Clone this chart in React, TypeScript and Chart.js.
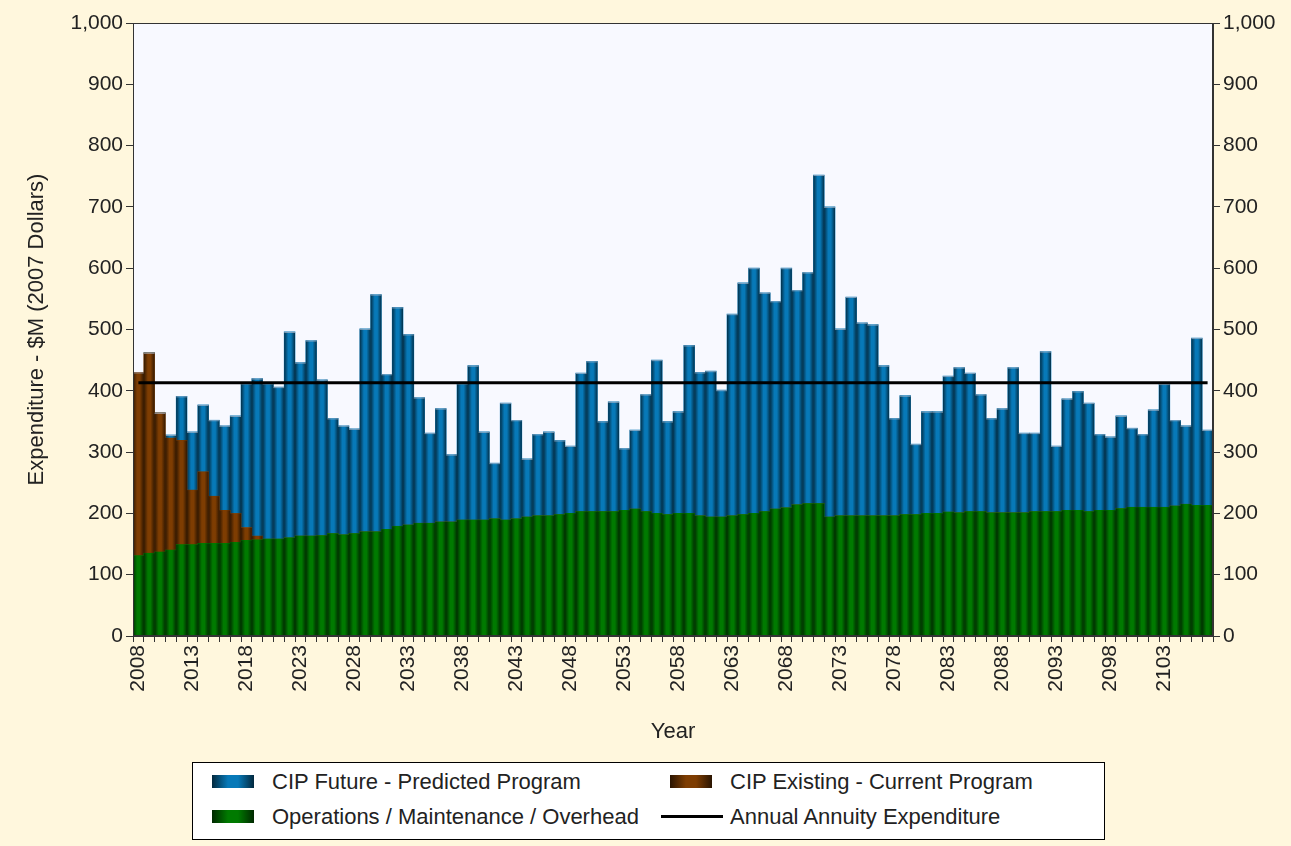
import React, { useEffect, useRef } from 'react';
import { Chart, registerables } from 'chart.js';

Chart.register(...registerables);

// ---------- data ----------
const FIRST_YEAR = 2008;
const YEAR_COUNT = 100;
const YEARS: string[] = Array.from({ length: YEAR_COUNT }, (_, i) => String(FIRST_YEAR + i));
const X_LABEL_EVERY = 5;

// Operations / Maintenance / Overhead ($M)
const OPS_VALUES = [
  131, 135, 137, 140, 149, 149, 151, 151, 151, 153,
  156, 157, 158, 158, 160, 163, 163, 164, 167, 165,
  167, 170, 170, 174, 179, 181, 184, 184, 186, 186,
  189, 189, 189, 191, 189, 191, 194, 196, 196, 198,
  200, 203, 203, 203, 203, 205, 207, 203, 200, 198,
  200, 200, 196, 194, 194, 196, 198, 200, 203, 207,
  209, 214, 216, 216, 194, 196, 196, 196, 196, 196,
  196, 198, 198, 200, 200, 202, 201, 203, 203, 201,
  201, 201, 201, 203, 203, 203, 205, 205, 203, 205,
  205, 208, 210, 210, 210, 210, 212, 215, 213, 213,
];

// CIP Existing - Current Program ($M)
const EXISTING_VALUES = [
  299, 327, 227, 183, 170, 89, 117, 77, 54, 47,
  21, 6, 0, 0, 0, 0, 0, 0, 0, 0,
  0, 0, 0, 0, 0, 0, 0, 0, 0, 0,
  0, 0, 0, 0, 0, 0, 0, 0, 0, 0,
  0, 0, 0, 0, 0, 0, 0, 0, 0, 0,
  0, 0, 0, 0, 0, 0, 0, 0, 0, 0,
  0, 0, 0, 0, 0, 0, 0, 0, 0, 0,
  0, 0, 0, 0, 0, 0, 0, 0, 0, 0,
  0, 0, 0, 0, 0, 0, 0, 0, 0, 0,
  0, 0, 0, 0, 0, 0, 0, 0, 0, 0,
];

// CIP Future - Predicted Program ($M)
const FUTURE_VALUES = [
  0, 0, 0, 5, 72, 95, 109, 124, 138, 159,
  235, 257, 254, 248, 336, 283, 319, 254, 188, 178,
  171, 331, 387, 253, 357, 311, 205, 147, 185, 110,
  223, 252, 144, 91, 191, 161, 95, 133, 137, 121,
  110, 226, 245, 147, 179, 101, 129, 191, 250, 152,
  166, 274, 234, 238, 207, 329, 378, 400, 357, 339,
  391, 350, 377, 536, 506, 305, 357, 315, 312, 245,
  159, 194, 115, 166, 166, 222, 237, 226, 191, 154,
  170, 237, 130, 128, 261, 107, 182, 194, 177, 124,
  120, 151, 129, 119, 159, 201, 140, 128, 273, 123,
];

// Annual Annuity Expenditure ($M), constant
const ANNUITY_VALUE = 413;

const Y_MIN = 0;
const Y_MAX = 1000;
const Y_STEP = 100;

const SERIES_NAMES = {
  future: 'CIP Future - Predicted Program',
  existing: 'CIP Existing - Current Program',
  ops: 'Operations / Maintenance / Overhead',
  annuity: 'Annual Annuity Expenditure',
};

// ---------- styles ----------
const PAGE_BG = '#FFF7DD';
const PLOT_BG = '#F8F9FF';
const AXIS_COLOR = '#333333';
const TEXT_COLOR = '#222222';
const FONT_FAMILY = "'Liberation Sans', Arial, sans-serif";
const TICK_FONT_SIZE = 21;
const TITLE_FONT_SIZE = 22;
const COLORS = {
  future: '#0779B8',
  existing: '#7E3D02',
  ops: '#007A00',
};
const EDGE_SHADE = 'rgba(0,0,0,0.6)';

const shadingPlugin = {
  id: 'barShading',
  beforeDraw(chart: any) {
    const { ctx, chartArea } = chart;
    if (!chartArea) return;
    ctx.save();
    ctx.fillStyle = PLOT_BG;
    ctx.fillRect(chartArea.left, chartArea.top, chartArea.right - chartArea.left, chartArea.bottom - chartArea.top);
    ctx.restore();
  },
  afterDatasetDraw(chart: any, args: any) {
    const meta = args.meta;
    if (meta.type !== 'bar') return;
    const ctx = chart.ctx;
    const dsIndex = args.index;
    ctx.save();
    meta.data.forEach((el: any, i: number) => {
      const p = el.getProps(['x', 'y', 'base', 'width'], true);
      const left = p.x - p.width / 2;
      const top = Math.min(p.y, p.base);
      const h = Math.abs(p.base - p.y);
      if (h < 0.5) return;
      const g = ctx.createLinearGradient(left, 0, left + p.width, 0);
      g.addColorStop(0, EDGE_SHADE);
      g.addColorStop(0.38, 'rgba(0,0,0,0)');
      g.addColorStop(0.62, 'rgba(0,0,0,0)');
      g.addColorStop(1, EDGE_SHADE);
      ctx.fillStyle = g;
      ctx.fillRect(left, top, p.width, h);
      const isTop = dsIndex === 2 || (dsIndex === 1 && FUTURE_VALUES[i] === 0);
      if (isTop) {
        ctx.fillStyle = 'rgba(175,190,210,0.7)';
        ctx.fillRect(left, top, p.width, 1);
      }
    });
    ctx.restore();
  },
  afterDraw(chart: any) {
    const { ctx, chartArea } = chart;
    ctx.save();
    ctx.strokeStyle = AXIS_COLOR;
    ctx.lineWidth = 1;
    ctx.strokeRect(
      Math.round(chartArea.left) + 0.5,
      Math.round(chartArea.top) + 0.5,
      Math.round(chartArea.right - chartArea.left) - 1,
      Math.round(chartArea.bottom - chartArea.top) - 1
    );
    ctx.restore();
  },
};

function swatchGradient(color: string) {
  return `linear-gradient(to right, #000a 0%, ${color} 38%, ${color} 62%, #000a 100%), ${color}`;
}

export default function App() {
  const canvasRef = useRef<HTMLCanvasElement | null>(null);

  useEffect(() => {
    const canvas = canvasRef.current;
    if (!canvas) return;
    const annuity = YEARS.map(() => ANNUITY_VALUE);
    const tickFont = { family: FONT_FAMILY, size: TICK_FONT_SIZE };
    const titleFont = { family: FONT_FAMILY, size: TITLE_FONT_SIZE };

    const chart = new Chart(canvas, {
      type: 'bar',
      data: {
        labels: YEARS,
        datasets: [
          {
            type: 'bar',
            label: SERIES_NAMES.ops,
            data: OPS_VALUES,
            backgroundColor: COLORS.ops,
            borderWidth: 0,
            barPercentage: 1,
            categoryPercentage: 1,
            stack: 'main',
            order: 1,
          },
          {
            type: 'bar',
            label: SERIES_NAMES.existing,
            data: EXISTING_VALUES,
            backgroundColor: COLORS.existing,
            borderWidth: 0,
            barPercentage: 1,
            categoryPercentage: 1,
            stack: 'main',
            order: 1,
          },
          {
            type: 'bar',
            label: SERIES_NAMES.future,
            data: FUTURE_VALUES,
            backgroundColor: COLORS.future,
            borderWidth: 0,
            barPercentage: 1,
            categoryPercentage: 1,
            stack: 'main',
            order: 1,
          },
          {
            type: 'line',
            label: SERIES_NAMES.annuity,
            data: annuity,
            borderColor: '#000000',
            borderWidth: 3,
            pointRadius: 0,
            fill: false,
            stack: 'line',
            order: 0,
          } as any,
        ],
      },
      options: {
        responsive: false,
        animation: false,
        devicePixelRatio: 1,
        layout: { padding: { left: 0, right: 0, top: 23, bottom: 100 } },
        font: tickFont,
        color: TEXT_COLOR,
        plugins: {
          legend: { display: false },
          tooltip: { enabled: false },
        },
        scales: {
          x: {
            type: 'category',
            stacked: true,
            offset: true,
            grid: {
              offset: true,
              drawOnChartArea: false,
              drawTicks: true,
              tickLength: 6,
              color: AXIS_COLOR,
            },
            border: { display: true, color: AXIS_COLOR },
            ticks: {
              autoSkip: false,
              maxRotation: 90,
              minRotation: 90,
              padding: 3,
              color: TEXT_COLOR,
              font: tickFont,
              callback: (_v: any, i: number) => (i % X_LABEL_EVERY === 0 ? YEARS[i] : ''),
            },
            title: {
              display: true,
              text: 'Year',
              color: TEXT_COLOR,
              font: titleFont,
              padding: { top: 0, bottom: 1 },
            },
            afterFit: (s: any) => {
              s.height = 110;
            },
          },
          y: {
            type: 'linear',
            position: 'left',
            stacked: true,
            min: Y_MIN,
            max: Y_MAX,
            grid: {
              drawOnChartArea: false,
              drawTicks: true,
              tickLength: 7,
              color: AXIS_COLOR,
            },
            border: { display: true, color: AXIS_COLOR },
            ticks: {
              stepSize: Y_STEP,
              padding: 3,
              color: TEXT_COLOR,
              font: tickFont,
            },
            title: {
              display: true,
              text: 'Expenditure - $M (2007 Dollars)',
              color: TEXT_COLOR,
              font: titleFont,
              padding: { top: 24, bottom: 0 },
            },
            afterFit: (s: any) => {
              s.width = 133;
            },
          },
          y2: {
            type: 'linear',
            position: 'right',
            min: Y_MIN,
            max: Y_MAX,
            grid: {
              drawOnChartArea: false,
              drawTicks: true,
              tickLength: 7,
              color: AXIS_COLOR,
            },
            border: { display: true, color: AXIS_COLOR },
            ticks: {
              stepSize: Y_STEP,
              padding: 3,
              color: TEXT_COLOR,
              font: tickFont,
            },
            afterFit: (s: any) => {
              s.width = 78;
            },
          },
        },
      } as any,
      plugins: [shadingPlugin],
    });

    return () => {
      chart.destroy();
    };
  }, []);

  const textStyle: React.CSSProperties = {
    position: 'absolute',
    fontFamily: FONT_FAMILY,
    fontSize: TITLE_FONT_SIZE,
    color: TEXT_COLOR,
    lineHeight: '24px',
    height: 24,
    whiteSpace: 'nowrap',
  };
  const swatch = (left: number, top: number, color: string): React.CSSProperties => ({
    position: 'absolute',
    left,
    top,
    width: 42,
    height: 13,
    background: swatchGradient(color),
  });

  return (
    <div
      style={{
        position: 'fixed',
        left: 0,
        top: 0,
        width: 1291,
        height: 846,
        background: PAGE_BG,
        overflow: 'hidden',
      }}
    >
      <canvas ref={canvasRef} width={1291} height={846} style={{ position: 'absolute', left: 0, top: 0 }} />
      <div
        style={{
          position: 'absolute',
          left: 192,
          top: 762,
          width: 911,
          height: 76,
          border: '1px solid #000',
          background: '#FFFFFF',
        }}
      />
      <div style={swatch(212, 775, COLORS.future)} />
      <div style={{ ...textStyle, left: 272, top: 770 }}>{SERIES_NAMES.future}</div>
      <div style={swatch(670, 775, COLORS.existing)} />
      <div style={{ ...textStyle, left: 730, top: 770 }}>{SERIES_NAMES.existing}</div>
      <div style={swatch(212, 810, COLORS.ops)} />
      <div style={{ ...textStyle, left: 272, top: 805 }}>{SERIES_NAMES.ops}</div>
      <div style={{ position: 'absolute', left: 661, top: 815, width: 62, height: 3, background: '#000' }} />
      <div style={{ ...textStyle, left: 730, top: 805 }}>{SERIES_NAMES.annuity}</div>
    </div>
  );
}
